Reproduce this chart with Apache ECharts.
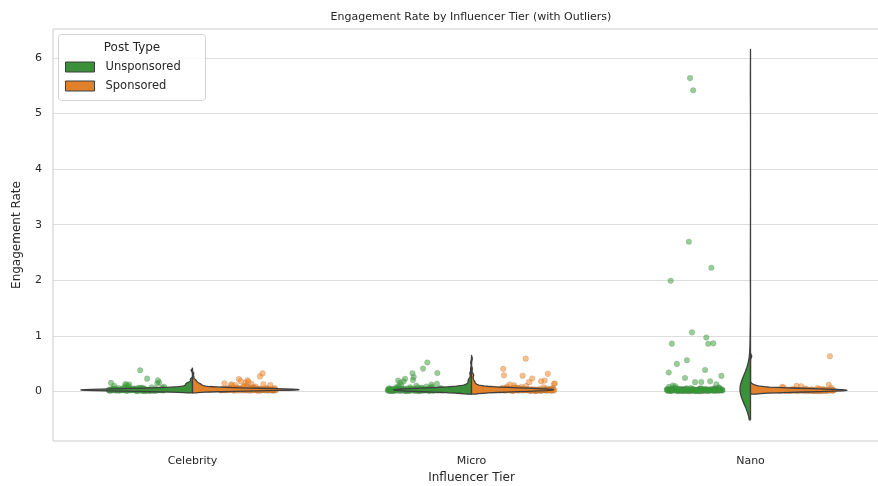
<!DOCTYPE html>
<html>
<head>
<meta charset="utf-8">
<script src="https://cdn.jsdelivr.net/npm/echarts@6/dist/echarts.min.js"></script>
<style>
  html, body { margin: 0; padding: 0; background: #ffffff; }
  #chart { width: 878px; height: 486px; }
</style>
</head>
<body>
<div id="chart"></div>
<script>
// Categories and labels
const tiers = ['Celebrity', 'Micro', 'Nano'];
const postTypes = ['Unsponsored', 'Sponsored'];
const yTicks = [0, 1, 2, 3, 4, 5, 6];

// Engagement rate observations per tier and post type
const celebUnsponsored = [
  0.021, 0.013, 0.034, 0.018, 0.026, 0.046, 0.031, 0.015, 0.024, 0.382,
  0.019, 0.028, 0.036, 0.022, 0.016, 0.047, 0.029, 0.025,
  0.017, 0.033, 0.058, 0.020, 0.014, 0.027, 0.051, 0.039, 0.023, 0.231,
  0.018, 0.030, 0.066, 0.026, 0.021, 0.035, 0.019, 0.052,
  0.024, 0.143, 0.016, 0.028, 0.013, 0.032, 0.071, 0.022, 0.017, 0.027,
  0.042, 0.044, 0.020, 0.029, 0.162, 0.014, 0.025, 0.018, 0.037, 0.085,
  0.023, 0.031, 0.019, 0.026, 0.049, 0.021, 0.118, 0.028,
  0.034, 0.062, 0.022, 0.027, 0.018, 0.041, 0.024, 0.201,
  0.015, 0.030, 0.020, 0.094, 0.026, 0.057, 0.033, 0.017, 0.055, 0.023,
  0.019, 0.136, 0.028, 0.014, 0.025, 0.076, 0.021, 0.032, 0.016, 0.045,
  0.027, 0.048, 0.104, 0.022, 0.018, 0.038, 0.063, 0.024, 0.015, 0.029,
  0.155, 0.020, 0.081, 0.026, 0.053, 0.043, 0.017, 0.127, 0.031, 0.069
];
const celebSponsored = [
  0.028, 0.041, 0.019, 0.055, 0.033, 0.024, 0.272, 0.037, 0.015, 0.046,
  0.031, 0.062, 0.022, 0.039, 0.027, 0.118, 0.034, 0.018, 0.051, 0.029,
  0.043, 0.025, 0.074, 0.036, 0.021, 0.158, 0.032, 0.048, 0.026, 0.038,
  0.017, 0.067, 0.030, 0.044, 0.023, 0.089, 0.035, 0.027, 0.203, 0.040,
  0.020, 0.057, 0.031, 0.024, 0.129, 0.036, 0.049, 0.028, 0.016, 0.071,
  0.033, 0.042, 0.025, 0.326, 0.037, 0.022, 0.060, 0.029, 0.045, 0.098,
  0.034, 0.019, 0.052, 0.030, 0.141, 0.039, 0.026, 0.083, 0.035, 0.023,
  0.047, 0.031, 0.176, 0.027, 0.040, 0.018, 0.064, 0.033, 0.109, 0.036,
  0.024, 0.053, 0.029, 0.042, 0.021, 0.078, 0.038, 0.132, 0.032, 0.026,
  0.050, 0.035, 0.017, 0.069, 0.030, 0.044, 0.224, 0.028, 0.058, 0.037,
  0.023, 0.093, 0.034, 0.041, 0.020, 0.115, 0.031, 0.047, 0.027, 0.186,
  0.039, 0.025, 0.061, 0.033, 0.022, 0.148, 0.036, 0.054, 0.029, 0.043
];
const microUnsponsored = [
  0.018, 0.032, 0.049, 0.025, 0.041, 0.016, 0.522, 0.029, 0.021, 0.014,
  0.037, 0.023, 0.052, 0.046, 0.027, 0.019, 0.334, 0.031, 0.013, 0.058,
  0.024, 0.017, 0.035, 0.012, 0.028, 0.207, 0.020, 0.043, 0.015, 0.026,
  0.071, 0.022, 0.066, 0.033, 0.018, 0.412, 0.030, 0.024, 0.052, 0.016,
  0.027, 0.013, 0.039, 0.021, 0.094, 0.019, 0.034, 0.011, 0.025, 0.183,
  0.029, 0.017, 0.048, 0.023, 0.014, 0.036, 0.063, 0.020, 0.031, 0.262,
  0.015, 0.026, 0.012, 0.042, 0.022, 0.018, 0.085, 0.028, 0.058, 0.035,
  0.024, 0.141, 0.019, 0.032, 0.016, 0.055, 0.027, 0.013, 0.038, 0.021,
  0.329, 0.025, 0.017, 0.046, 0.030, 0.014, 0.077, 0.023, 0.011, 0.034,
  0.019, 0.118, 0.028, 0.016, 0.040, 0.022, 0.012, 0.061, 0.026, 0.198,
  0.018, 0.033, 0.015, 0.024, 0.050, 0.020, 0.102, 0.029, 0.013, 0.037,
  0.021, 0.068, 0.156, 0.023, 0.019, 0.044, 0.089, 0.229, 0.030, 0.018,
  0.057, 0.127, 0.074, 0.039, 0.025
];
const microSponsored = [
  0.032, 0.018, 0.047, 0.025, 0.591, 0.039, 0.021, 0.056, 0.029, 0.014,
  0.043, 0.026, 0.284, 0.035, 0.019, 0.068, 0.030, 0.023, 0.051, 0.016,
  0.037, 0.139, 0.027, 0.044, 0.020, 0.033, 0.408, 0.024, 0.059, 0.031,
  0.017, 0.041, 0.028, 0.082, 0.022, 0.036, 0.013, 0.318, 0.045, 0.026,
  0.034, 0.019, 0.063, 0.029, 0.038, 0.197, 0.024, 0.049, 0.015, 0.031,
  0.042, 0.027, 0.091, 0.021, 0.035, 0.145, 0.030, 0.018, 0.054, 0.026,
  0.292, 0.037, 0.023, 0.046, 0.016, 0.033, 0.075, 0.028, 0.040, 0.020,
  0.113, 0.032, 0.025, 0.057, 0.019, 0.036, 0.029, 0.234, 0.044, 0.022,
  0.031, 0.066, 0.017, 0.039, 0.027, 0.168, 0.034, 0.024, 0.050, 0.030,
  0.014, 0.043, 0.021, 0.097, 0.035, 0.028, 0.061, 0.018, 0.038, 0.126,
  0.025, 0.048, 0.032, 0.020, 0.071, 0.029, 0.041, 0.023, 0.184, 0.036,
  0.021, 0.027, 0.016, 0.033, 0.024, 0.019, 0.030, 0.025, 0.014, 0.028,
  0.022, 0.035, 0.018, 0.026, 0.031, 0.020, 0.023, 0.029, 0.017, 0.034
];
const nanoUnsponsored = [
  0.031, 0.172, 0.018, 0.042, 5.418, 0.861, 0.972, 0.243, 0.053, 0.026,
  0.497, 2.226, 5.637, 0.342, 0.021, 0.037, 0.131, 0.168, 0.029, 0.858,
  0.562, 0.281, 0.047, 0.012, 0.866, 1.064, 1.992, 0.388, 0.024, 0.035,
  0.019, 0.058, 0.183, 2.694,
  0.027, 0.014, 0.043, 0.022, 0.009, 0.036, 0.018, 0.051, 0.025, 0.012,
  0.033, 0.020, 0.061, 0.028, 0.015, 0.040, 0.023, 0.011, 0.046, 0.030,
  0.017, 0.034, 0.008, 0.026, 0.055, 0.021, 0.038, 0.013, 0.029, 0.072,
  0.019, 0.032, 0.024, 0.010, 0.044, 0.027, 0.016, 0.037, 0.022, 0.064,
  0.030, 0.012, 0.025, 0.049, 0.018, 0.035, 0.021, 0.007, 0.041, 0.028,
  0.015, 0.033, 0.096, 0.023, 0.011, 0.039, 0.026, 0.019, 0.052, 0.031,
  0.014, 0.024, 0.045, 0.017, 0.029, 0.009, 0.036, 0.022, 0.083, 0.027,
  0.013, 0.040, 0.020, 0.032, 0.016, 0.058, 0.025, 0.011, 0.034, 0.021,
  0.047, 0.018, 0.030, 0.012, 0.067, 0.026, 0.015, 0.038, 0.023, 0.010,
  0.042, 0.028, 0.017, 0.035, 0.108, 0.024, 0.014, 0.031, 0.019, 0.054,
  0.027, 0.012, 0.039, 0.022, 0.016, 0.033,
  0.023, 0.041, 0.015, 0.030, 0.019, 0.056, 0.026, 0.011, 0.035, 0.021,
  0.044, 0.017, 0.028, 0.013, 0.038
];
const nanoSponsored = [
  0.021, 0.014, 0.032, 0.018, 0.026, 0.071, 0.011, 0.102, 0.068, 0.023,
  0.016, 0.035, 0.019, 0.028, 0.012, 0.044, 0.022, 0.015, 0.030, 0.009,
  0.025, 0.017, 0.038, 0.020, 0.013, 0.027, 0.083, 0.018, 0.024, 0.634,
  0.016, 0.029, 0.011, 0.021, 0.034, 0.019, 0.014, 0.026, 0.052, 0.017,
  0.023, 0.010, 0.031, 0.020, 0.015, 0.041, 0.024, 0.012, 0.028, 0.018,
  0.121, 0.022, 0.013, 0.033, 0.019, 0.025, 0.016, 0.037, 0.021, 0.011,
  0.027, 0.058, 0.018, 0.024, 0.014, 0.030, 0.020, 0.093, 0.026, 0.015,
  0.022, 0.012, 0.035, 0.019, 0.047, 0.023, 0.016, 0.029, 0.013, 0.021,
  0.020, 0.027, 0.013, 0.024, 0.017, 0.031, 0.022, 0.015, 0.026, 0.019
];

const groups = [
  [celebUnsponsored, microUnsponsored, nanoUnsponsored],
  [celebSponsored, microSponsored, nanoSponsored]
];

const fillColors = ['#3a913a', '#e1812c'];
const pointColors = ['rgba(44,160,44,0.5)', 'rgba(255,127,14,0.5)'];
const outline = '#3f3f3f';
const FONT = 'DejaVu Sans, sans-serif';
const TEXT = '#262626';

// Gaussian kernel density estimate, Scott bandwidth, cut = 2 bandwidths, 100 grid points
function kde(values) {
  const n = values.length;
  const mean = values.reduce((a, b) => a + b, 0) / n;
  const sd = Math.sqrt(values.reduce((a, v) => a + (v - mean) * (v - mean), 0) / (n - 1));
  const bw = sd * Math.pow(n, -0.2);
  const lo = Math.min(...values) - 2 * bw;
  const hi = Math.max(...values) + 2 * bw;
  const ys = [], ds = [];
  const norm = n * bw * Math.sqrt(2 * Math.PI);
  for (let k = 0; k < 100; k++) {
    const y = lo + (hi - lo) * k / 99;
    let s = 0;
    for (const v of values) { const z = (y - v) / bw; s += Math.exp(-0.5 * z * z); }
    ys.push(y); ds.push(s / norm);
  }
  return { ys, ds };
}
const kdes = groups.map(byTier => byTier.map(kde));
let peakDensity = 0;
kdes.forEach(h => h.forEach(k => k.ds.forEach(d => { if (d > peakDensity) peakDensity = d; })));

function violinSeries(h) {
  return {
    name: postTypes[h],
    type: 'custom',
    z: 3,
    encode: { x: 0, y: 1 },
    data: tiers.map((_, t) => [t, 0]),
    renderItem: function (params, api) {
      const t = api.value(0);
      const k = kdes[h][t];
      const band = api.size([1, 0])[0];
      const cx = api.coord([t, 0])[0];
      const sign = h === 0 ? -1 : 1;
      const pts = [[cx, api.coord([t, k.ys[0]])[1]]];
      for (let j = 0; j < k.ys.length; j++) {
        pts.push([cx + sign * k.ds[j] / peakDensity * 0.4 * band, api.coord([t, k.ys[j]])[1]]);
      }
      pts.push([cx, api.coord([t, k.ys[k.ys.length - 1]])[1]]);
      return {
        type: 'polygon',
        shape: { points: pts },
        style: { fill: fillColors[h], stroke: outline, lineWidth: 1.3, lineJoin: 'round' }
      };
    }
  };
}

function stripSeries(h) {
  const data = [];
  groups[h].forEach((vals, t) => vals.forEach((v, i) => data.push([t, v, i])));
  return {
    name: postTypes[h] + ' points',
    type: 'custom',
    z: 2,
    encode: { x: 0, y: 1 },
    data: data,
    renderItem: function (params, api) {
      const t = api.value(0), v = api.value(1), i = api.value(2);
      const c = api.coord([t, v]);
      const band = api.size([1, 0])[0];
      const f = (i * 0.6180339887) % 1;           // even spread across the jitter strip
      const offset = (h === 0 ? -0.2 : 0.2) + (2 * f - 1) * 0.1;
      return {
        type: 'circle',
        shape: { cx: c[0] + offset * band, cy: c[1], r: 2.8 },
        style: { fill: pointColors[h], stroke: 'rgba(110,110,110,0.35)', lineWidth: 0.6 }
      };
    }
  };
}

const chart = echarts.init(document.getElementById('chart'), null, { renderer: 'canvas' });
chart.setOption({
  backgroundColor: '#ffffff',
  animation: false,
  grid: {
    left: 53, top: 29, width: 837, height: 412,
    outerBoundsMode: 'none', containLabel: false,
    show: true, borderColor: '#cccccc', borderWidth: 1
  },
  xAxis: {
    type: 'category',
    data: tiers,
    axisLine: { show: false },
    axisTick: { show: false },
    splitLine: { show: false },
    axisLabel: { margin: 15, fontFamily: FONT, fontSize: 11, color: TEXT },
    name: 'Influencer Tier', nameLocation: 'middle', nameGap: 31,
    nameTextStyle: { fontFamily: FONT, fontSize: 12, color: TEXT }
  },
  yAxis: {
    type: 'value',
    min: -0.89, max: 6.52,
    axisLine: { show: false },
    axisTick: { show: false, customValues: yTicks },
    axisLabel: { customValues: yTicks, margin: 11, fontFamily: FONT, fontSize: 11, color: TEXT },
    splitLine: { show: true, lineStyle: { color: '#dddddd', width: 1 } },
    name: 'Engagement Rate', nameLocation: 'middle', nameGap: 30, nameRotate: 90,
    nameTextStyle: { fontFamily: FONT, fontSize: 12, color: TEXT }
  },
  legend: {
    data: postTypes.map((p, h) => ({
      name: p, icon: 'rect',
      itemStyle: { color: fillColors[h], borderColor: outline, borderWidth: 1 }
    })),
    orient: 'vertical', left: 65, top: 61, z: 12, padding: 0,
    itemWidth: 29, itemHeight: 10, itemGap: 7, selectedMode: false,
    textStyle: { fontFamily: FONT, fontSize: 11.5, color: TEXT, padding: [0, 0, 0, 6] }
  },
  graphic: [
    {
      type: 'text', x: 471, y: 17, z: 11,
      style: {
        text: 'Engagement Rate by Influencer Tier (with Outliers)',
        font: '11px ' + FONT, fill: TEXT, align: 'center', verticalAlign: 'middle'
      }
    },
    {
      type: 'rect', left: 58, top: 34, z: 10,
      shape: { width: 147, height: 66, r: 3 },
      style: { fill: 'rgba(255,255,255,0.85)', stroke: '#d4d4d4', lineWidth: 1 }
    },
    {
      type: 'text', x: 132, y: 48, z: 11,
      style: { text: 'Post Type', font: '12px ' + FONT, fill: TEXT, align: 'center', verticalAlign: 'middle' }
    }
  ],
  series: [stripSeries(0), stripSeries(1), violinSeries(0), violinSeries(1)]
});
</script>
</body>
</html>
